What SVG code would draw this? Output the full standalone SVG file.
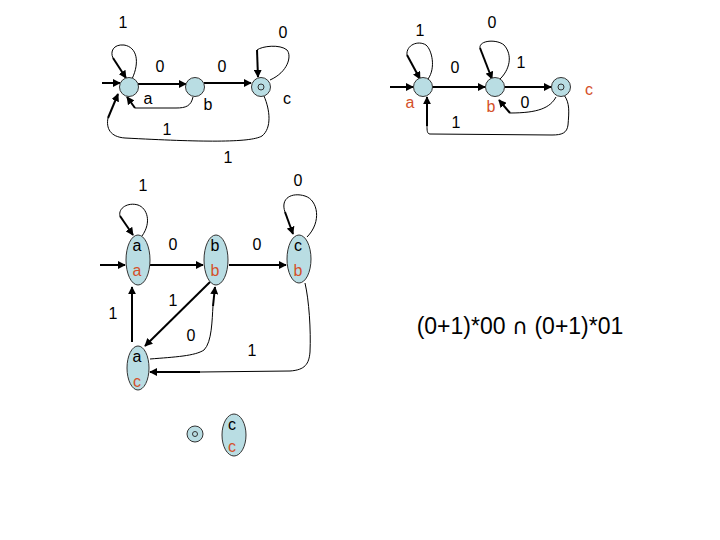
<svg xmlns="http://www.w3.org/2000/svg" width="720" height="540" viewBox="0 0 720 540">
<style>
.n{fill:#B9DDE3;stroke:#333;stroke-width:1}
.d{fill:none;stroke:#333;stroke-width:1}
.t{font-family:"Liberation Sans",Arial,sans-serif;font-size:16px;fill:#000;text-anchor:middle}
.r{fill:#D4502A}
.th{fill:none;stroke:#000;stroke-width:2}
.tn{fill:none;stroke:#000;stroke-width:1}
</style>
<defs>
<marker id="ah" viewBox="0 0 10 10" refX="9" refY="5" markerWidth="4" markerHeight="4" orient="auto" markerUnits="strokeWidth">
<path d="M0,0 L10,5 L0,10 z" fill="#000"/>
</marker>
</defs>
<rect width="720" height="540" fill="#fff"/>

<g id="connectors">
<!-- top-left DFA -->
<path class="th" d="M102,83 L120,83" marker-end="url(#ah)"/>
<path class="tn" d="M132,79 C140,62 137,47 124,45 C113,44 110,52 113,58"/>
<path class="th" d="M113,58 L126,78" marker-end="url(#ah)"/>
<path class="th" d="M138,84 L186,84" marker-end="url(#ah)"/>
<path class="th" d="M204,83 L251,83" marker-end="url(#ah)"/>
<path class="tn" d="M193,97 C191,106 186,108 176,108 L135,108"/>
<path class="th" d="M135,108 L127,97" marker-end="url(#ah)"/>
<path class="tn" d="M270,80 C288,72 292,56 287,50 C280,44 262,46 257,50"/>
<path class="th" d="M257,50 L258,77" marker-end="url(#ah)"/>
<path class="tn" d="M264,96 C270,110 272,128 262,136 C250,143 200,142 125,138 C110,137 106,128 108,118"/>
<path class="th" d="M108,118 L118,94" marker-end="url(#ah)"/>

<!-- top-right DFA -->
<path class="th" d="M390,87 L413,87" marker-end="url(#ah)"/>
<path class="tn" d="M428,79 C436,68 432,50 426,45 C418,40 406,45 407,55"/>
<path class="th" d="M407,55 L420,79" marker-end="url(#ah)"/>
<path class="th" d="M432,87 L485,87" marker-end="url(#ah)"/>
<path class="tn" d="M499,80 C510,70 513,55 504,45 C497,39 479,40 480,48"/>
<path class="th" d="M480,48 L492,79" marker-end="url(#ah)"/>
<path class="th" d="M505,87 L551,87" marker-end="url(#ah)"/>
<path class="tn" d="M556,97 C550,108 538,113 510,113"/>
<path class="th" d="M510,113 L499,100" marker-end="url(#ah)"/>
<path class="tn" d="M564,95 C570,103 569,112 568,125 C567,133 562,135 552,135 L430,134 C427,134 427,130 427,126"/>
<path class="th" d="M427,126 L427,97" marker-end="url(#ah)"/>

<!-- bottom-left product -->
<path class="th" d="M100,265 L125,265" marker-end="url(#ah)"/>
<path class="tn" d="M142,236 C152,222 147,208 138,205 C128,202 118,208 120,216"/>
<path class="th" d="M120,216 L133,235" marker-end="url(#ah)"/>
<path class="th" d="M150,265 L203,265" marker-end="url(#ah)"/>
<path class="th" d="M229,265 L286,265" marker-end="url(#ah)"/>
<path class="tn" d="M307,237 C322,222 318,200 305,196 C292,192 280,198 285,212"/>
<path class="th" d="M285,212 L293,234" marker-end="url(#ah)"/>
<path class="th" d="M132,342 L132,287" marker-end="url(#ah)"/>
<path class="th" d="M210,282 L145,346" marker-end="url(#ah)"/>
<path class="tn" d="M150,359 C175,357 195,356 204,350 C212,342 212,320 213,306"/>
<path class="th" d="M213,306 L215,287" marker-end="url(#ah)"/>
<path class="tn" d="M305,283 C309,300 311,330 310,352 C309,364 305,370 290,371 L200,372"/>
<path class="th" d="M200,372 L150,372" marker-end="url(#ah)"/>
</g>

<!-- top-left nodes -->
<g id="tl-a"><circle class="n" cx="129" cy="87" r="9.5"/><text class="t" x="148" y="104">a</text></g>
<g id="tl-b"><circle class="n" cx="195" cy="87" r="9.5"/><text class="t" x="208" y="110">b</text></g>
<g id="tl-c"><circle class="n" cx="261" cy="87" r="9.5"/><circle class="d" cx="261" cy="87" r="3"/><text class="t" x="287" y="104">c</text></g>

<!-- top-right nodes -->
<g id="tr-a"><circle class="n" cx="423" cy="87" r="9.5"/><text class="t r" x="410" y="108">a</text></g>
<g id="tr-b"><circle class="n" cx="495" cy="87" r="9.5"/><text class="t r" x="491" y="112">b</text></g>
<g id="tr-c"><circle class="n" cx="561" cy="87" r="9.5"/><circle class="d" cx="561" cy="87" r="3"/><text class="t r" x="589" y="95">c</text></g>

<!-- bottom-left product nodes -->
<g id="aa"><ellipse class="n" cx="138" cy="260" rx="12" ry="25"/><text class="t" x="137" y="251">a</text><text class="t r" x="137" y="276">a</text></g>
<g id="bb"><ellipse class="n" cx="216" cy="260" rx="12" ry="25"/><text class="t" x="215" y="251">b</text><text class="t r" x="215" y="276">b</text></g>
<g id="cb"><ellipse class="n" cx="299" cy="259" rx="12" ry="24"/><text class="t" x="298" y="251">c</text><text class="t r" x="298" y="276">b</text></g>
<g id="ac"><ellipse class="n" cx="138" cy="368" rx="11" ry="22"/><text class="t" x="137" y="362">a</text><text class="t r" x="137" y="387">c</text></g>
<g id="dead"><circle class="n" cx="195" cy="434" r="8"/><circle class="d" cx="195" cy="434" r="2.5"/></g>
<g id="cc"><ellipse class="n" cx="234" cy="435" rx="12" ry="21"/><text class="t" x="232" y="430">c</text><text class="t r" x="232" y="452">c</text></g>

<g id="labels">
<text class="t" x="123" y="28">1</text>
<text class="t" x="283" y="38">0</text>
<text class="t" x="160" y="72">0</text>
<text class="t" x="222" y="72">0</text>
<text class="t" x="167" y="135">1</text>
<text class="t" x="228" y="163">1</text>
<text class="t" x="420" y="36">1</text>
<text class="t" x="492" y="28">0</text>
<text class="t" x="455" y="73">0</text>
<text class="t" x="521" y="68">1</text>
<text class="t" x="525" y="108">0</text>
<text class="t" x="456" y="128">1</text>
<text class="t" x="143" y="191">1</text>
<text class="t" x="298" y="186">0</text>
<text class="t" x="173" y="250">0</text>
<text class="t" x="257" y="250">0</text>
<text class="t" x="113" y="319">1</text>
<text class="t" x="173" y="306">1</text>
<text class="t" x="191" y="341">0</text>
<text class="t" x="252" y="356">1</text>
<text class="t" x="520" y="334" style="font-size:23px">(0+1)*00 <tspan style="font-family:'DejaVu Sans',sans-serif;font-size:22px">∩</tspan> (0+1)*01</text>
</g>
</svg>
